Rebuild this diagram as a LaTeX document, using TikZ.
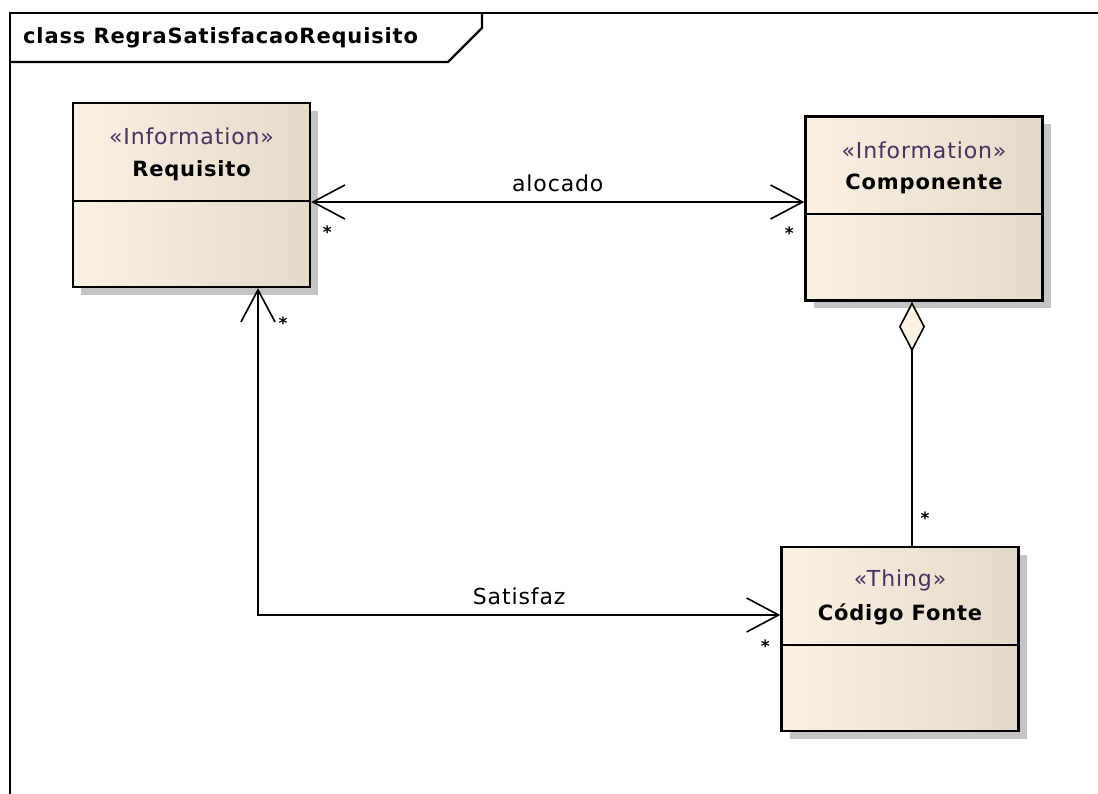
\documentclass[tikz,border=0pt]{standalone}
\usepackage{fontspec}
\setmainfont{DejaVu Sans}[LetterSpace=4]
\usetikzlibrary{arrows.meta,positioning,calc,shadows}

\definecolor{boxlight}{HTML}{FBF1E3}
\definecolor{boxdark}{HTML}{E4DACA}
\definecolor{shadowgray}{HTML}{C4C4C4}
\definecolor{stereocol}{HTML}{46325F}

\tikzset{
  classbox/.style={draw=black, line width=2.4pt, left color=boxlight, right color=boxdark,
    minimum width=237pt, minimum height=184pt, inner sep=0pt,
    drop shadow={shadow xshift=8pt, shadow yshift=-8pt, fill=shadowgray, opacity=1}},
  stereotext/.style={text=stereocol, font=\fontsize{22}{24}\selectfont, inner sep=0pt},
  nametext/.style={font=\fontsize{21}{24}\selectfont\bfseries, inner sep=0pt},
  linklabel/.style={font=\fontsize{22}{24}\selectfont, inner sep=0pt},
  mult/.style={font=\fontsize{17}{17}\selectfont\bfseries, inner sep=0pt},
  assoc/.style={line width=2pt, <->,
    >={Straight Barb[length=32pt, width=34pt, line width=1.6pt]}},
  agg/.style={line width=2pt,
    {Diamond[length=50pt, width=26pt, fill=boxlight, line width=1.6pt]}-}
}

\begin{document}
\begin{tikzpicture}[x=1pt, y=-1pt]
  \useasboundingbox (0,0) rectangle (1098,794);

  % frame of the class diagram
  \draw[line width=2.2pt] (10,794) -- (10,13) -- (1098,13);
  \draw[line width=2.2pt] (10,62) -- (448,62) -- (482,28) -- (482,13);
  \node[nametext, anchor=west] (frametitle) at (23,38) {class RegraSatisfacaoRequisito};

  % classes
  \node[classbox] (req) at (191.5,195) {};
  \node[classbox] (comp) at (924,208.5) {};
  \node[classbox] (cod) at (900,639) {};

  \node[stereotext] (reqS) at ([yshift=-35pt]req.north) {«Information»};
  \node[nametext] (reqN) at ([yshift=-69pt]req.north) {Requisito};
  \draw[line width=2.2pt] ([yshift=-99pt]req.north west) -- ([yshift=-99pt]req.north east);

  \node[stereotext] (compS) at ([yshift=-35pt]comp.north) {«Information»};
  \node[nametext] (compN) at ([yshift=-69pt]comp.north) {Componente};
  \draw[line width=2.2pt] ([yshift=-99pt]comp.north west) -- ([yshift=-99pt]comp.north east);

  \node[stereotext] (codS) at ([yshift=-35pt]cod.north) {«Thing»};
  \node[nametext] (codN) at ([yshift=-69pt]cod.north) {Código Fonte};
  \draw[line width=2.2pt] ([yshift=-99pt]cod.north west) -- ([yshift=-99pt]cod.north east);

  % associations
  \draw[assoc] ([yshift=-7pt]req.east) -- ([yshift=-7pt]req.east -| comp.west)
    node[linklabel, midway, yshift=19pt] (alocado) {alocado};
  \draw[assoc] ([xshift=66.5pt]req.south) |- ([yshift=24pt]cod.west)
    node[linklabel, pos=0.75, yshift=19pt] (satisfaz) {Satisfaz};
  \draw[agg] ([xshift=-12pt]comp.south) -- ([xshift=-12pt]comp.south |- cod.north);

  % multiplicities
  \node[mult] (m1) at ([xshift=16pt, yshift=-37pt]req.east) {*};
  \node[mult] (m2) at ([xshift=-15pt, yshift=-25pt]comp.west) {*};
  \node[mult] (m3) at ([xshift=91.5pt, yshift=-35pt]req.south) {*};
  \node[mult] (m4) at ([xshift=-15pt, yshift=-7pt]cod.west) {*};
  \node[mult] (m5) at ([xshift=25pt, yshift=28pt]cod.north) {*};
\end{tikzpicture}
\end{document}
